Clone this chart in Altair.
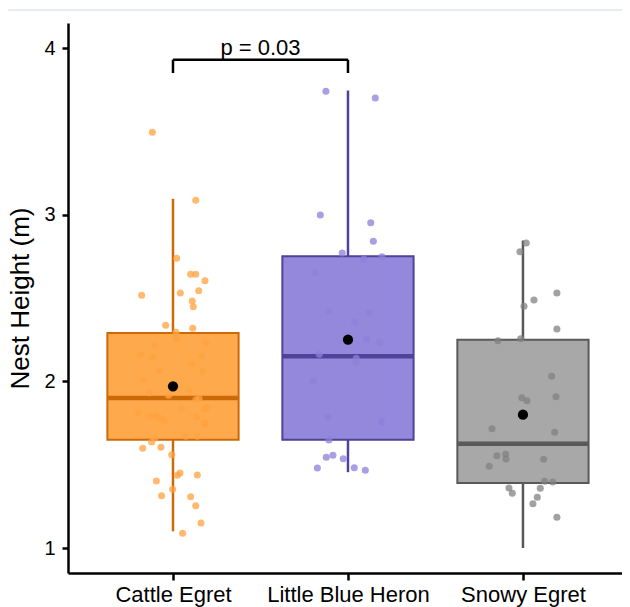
import altair as alt
import pandas as pd

# ---- data ----
categories = ["Cattle Egret", "Little Blue Heron", "Snowy Egret"]
q1 = [1.65, 1.65, 1.39]
median = [1.90, 2.15, 1.625]
q3 = [2.29, 2.75, 2.25]
whisker_lo = [1.10, 1.455, 1.00]
whisker_hi = [3.095, 3.745, 2.845]
means = [1.97, 2.25, 1.80]

cattle_y = [3.494, 3.086, 2.738, 2.642, 2.642, 2.604, 2.516, 2.530, 2.544, 2.482,
            2.448, 2.336, 2.318, 2.294, 2.254, 2.216, 2.230, 2.160, 2.146, 2.150,
            2.104, 2.060, 2.060, 2.008, 1.946, 1.932, 1.916, 1.890, 1.896, 1.838,
            1.834, 1.846, 1.808, 1.792, 1.796, 1.782, 1.766, 1.786, 1.750, 1.744,
            1.670, 1.670, 1.660, 1.636, 1.598, 1.604, 1.560, 1.450, 1.436, 1.438,
            1.402, 1.352, 1.314, 1.308, 1.253, 1.150, 1.088]
cattle_jitter = [-0.118, 0.130, 0.021, 0.101, 0.130, 0.183, -0.179, 0.042, 0.147, 0.110,
                 0.116, -0.042, 0.113, 0.017, 0.021, -0.103, 0.189, -0.183, -0.116, 0.164,
                 0.110, -0.078, 0.170, -0.170, 0.093, -0.135, -0.025, 0.131, 0.149, 0.050,
                 0.183, 0.197, -0.198, -0.131, -0.093, -0.078, -0.051, 0.135, 0.179, 0.187,
                 0.074, 0.139, -0.103, -0.122, -0.173, -0.069, -0.007, 0.040, 0.025, 0.139,
                 -0.095, -0.002, -0.065, 0.101, 0.130, 0.160, 0.055]

heron_y = [3.740, 3.700, 2.998, 2.952, 2.840, 2.770, 2.734, 2.748, 2.650, 2.418,
           2.410, 2.354, 2.254, 2.234, 2.162, 2.138, 2.116, 2.002, 1.784, 1.756,
           1.648, 1.544, 1.556, 1.536, 1.480, 1.482, 1.466]
heron_jitter = [-0.126, 0.156, -0.158, 0.130, 0.145, -0.033, 0.091, 0.194, -0.187, -0.113,
                0.122, 0.040, 0.105, 0.181, -0.164, 0.047, 0.046, -0.198, -0.114, 0.190,
                -0.109, -0.124, -0.086, -0.027, -0.175, 0.036, 0.099]

snowy_y = [2.830, 2.778, 2.530, 2.488, 2.450, 2.314, 2.244, 2.256, 2.030, 1.902,
           1.884, 1.908, 1.716, 1.694, 1.554, 1.562, 1.534, 1.490, 1.532, 1.400,
           1.396, 1.358, 1.360, 1.328, 1.304, 1.266, 1.184]
snowy_jitter = [0.019, -0.017, 0.194, 0.063, 0.006, 0.194, -0.143, -0.013, 0.164, -0.006,
                0.023, 0.189, -0.177, 0.181, -0.149, -0.099, -0.097, -0.193, 0.118, 0.124,
                0.170, 0.099, -0.080, -0.061, 0.082, 0.057, 0.194]

bracket_groups = ["Cattle Egret", "Little Blue Heron"]
bracket_top = 3.93
bracket_tip = 3.85
bracket_label = "p = 0.03"
bracket_label_y = 3.96

fill_colors = ["#FFA94D", "#9488DC", "#A8A8A8"]
line_colors = ["#CC6A08", "#4E4299", "#595959"]
point_colors = ["#FFA340", "#8C80DA", "#828282"]

# ---- tables ----
pos = {c: i + 1 for i, c in enumerate(categories)}
half = 0.375
box_df = pd.DataFrame({
    "species": categories,
    "pos": [pos[c] for c in categories],
    "left": [pos[c] - half for c in categories],
    "right": [pos[c] + half for c in categories],
    "q1": q1, "median": median, "q3": q3,
    "lo": whisker_lo, "hi": whisker_hi, "mean": means,
})

rows = []
for sp, ys, js in [(categories[0], cattle_y, cattle_jitter),
                   (categories[1], heron_y, heron_jitter),
                   (categories[2], snowy_y, snowy_jitter)]:
    for y, j in zip(ys, js):
        rows.append({"species": sp, "x": pos[sp] + j, "height": y})
pts_df = pd.DataFrame(rows)

br_h = pd.DataFrame({"x1": [pos[bracket_groups[0]]], "x2": [pos[bracket_groups[1]]],
                     "y": [bracket_top]})
br_v = pd.DataFrame({"x": [pos[g] for g in bracket_groups],
                     "y1": [bracket_tip] * 2, "y2": [bracket_top] * 2})
lab_df = pd.DataFrame({"x": [(pos[bracket_groups[0]] + pos[bracket_groups[1]]) / 2],
                       "y": [bracket_label_y], "label": [bracket_label]})

# ---- scales / axes ----
x_scale = alt.Scale(domain=[0.4, 3.566], nice=False, zero=False)
y_scale = alt.Scale(domain=[0.85, 4.15], nice=False, zero=False)
label_expr = "[" + ",".join("'" + c + "'" for c in categories) + "][datum.value - 1]"
x_axis = alt.Axis(values=[1, 2, 3], labelExpr=label_expr, title=None, grid=False,
                  labelFontSize=22, labelColor="black", labelPadding=4,
                  tickSize=7, tickWidth=2.5, tickColor="black",
                  domainWidth=2.5, domainColor="black")
y_axis = alt.Axis(values=[1, 2, 3, 4], title="Nest Height (m)", grid=False,
                  labelFontSize=20, labelColor="black", labelPadding=7,
                  tickSize=6, tickWidth=2.5, tickColor="black",
                  domainWidth=2.5, domainColor="black",
                  titleFontSize=26, titleFontWeight="normal", titleColor="black",
                  titlePadding=10)


def X(field):
    return alt.X(field, scale=x_scale, axis=x_axis)


def Y(field):
    return alt.Y(field, scale=y_scale, axis=y_axis)


fill_scale = alt.Scale(domain=categories, range=fill_colors)
line_scale = alt.Scale(domain=categories, range=line_colors)
pt_scale = alt.Scale(domain=categories, range=point_colors)

base = alt.Chart(box_df)

boxes = base.mark_bar(strokeWidth=2).encode(
    x=X("left:Q"), x2="right:Q",
    y=Y("q1:Q"), y2="q3:Q",
    fill=alt.Fill("species:N", scale=fill_scale, legend=None),
    stroke=alt.Stroke("species:N", scale=line_scale, legend=None),
)

whisk_low = base.mark_rule(strokeWidth=2.5).encode(
    x=X("pos:Q"), y=Y("lo:Q"), y2="q1:Q",
    stroke=alt.Stroke("species:N", scale=line_scale, legend=None),
)
whisk_high = base.mark_rule(strokeWidth=2.5).encode(
    x=X("pos:Q"), y=Y("q3:Q"), y2="hi:Q",
    stroke=alt.Stroke("species:N", scale=line_scale, legend=None),
)
med = base.mark_rule(strokeWidth=4.5).encode(
    x=X("left:Q"), x2="right:Q", y=Y("median:Q"),
    stroke=alt.Stroke("species:N", scale=line_scale, legend=None),
)

points = alt.Chart(pts_df).mark_circle(size=50, opacity=0.75).encode(
    x=X("x:Q"), y=Y("height:Q"),
    color=alt.Color("species:N", scale=pt_scale, legend=None),
)

mean_pts = base.mark_circle(size=105, opacity=1, color="black").encode(
    x=X("pos:Q"), y=Y("mean:Q"),
)

br_line = alt.Chart(br_h).mark_rule(strokeWidth=2.5, color="black").encode(
    x=X("x1:Q"), x2="x2:Q", y=Y("y:Q"),
)
br_ticks = alt.Chart(br_v).mark_rule(strokeWidth=2.5, color="black").encode(
    x=X("x:Q"), y=Y("y1:Q"), y2="y2:Q",
)
br_text = alt.Chart(lab_df).mark_text(fontSize=22, baseline="alphabetic", align="center",
                                      color="black").encode(
    x=X("x:Q"), y=Y("y:Q"), text="label:N",
)

top_line = alt.Chart(box_df).mark_rule(color="#E4EAF1", strokeWidth=1).encode(
    x=alt.value(-60), x2=alt.value(554), y=alt.value(-13)
)

chart = alt.layer(
    boxes, whisk_low, whisk_high, med, points, mean_pts,
    br_line, br_ticks, br_text, top_line
).properties(
    width=554, height=550,
    autosize=alt.AutoSizeParams(type="none"),
    padding={"left": 60, "top": 15, "right": 0, "bottom": 34},
).configure(
    font="Liberation Sans",
).configure_view(stroke=None)

chart.save("out.html", embed_options={"renderer": "svg", "actions": False})
